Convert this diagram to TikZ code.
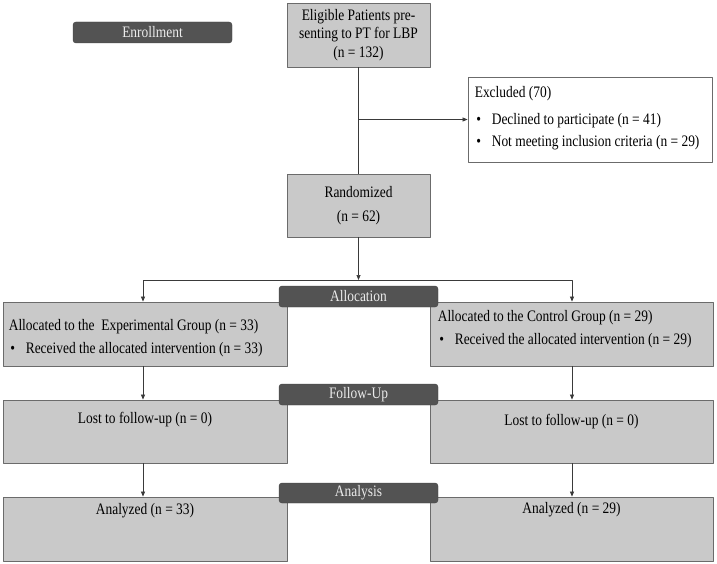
\documentclass[tikz,border=0pt]{standalone}
\usepackage{fontspec}
\setmainfont{Liberation Serif}[FakeStretch=0.84]
\usetikzlibrary{positioning,arrows.meta}

\definecolor{boxfill}{HTML}{C9C9C9}
\definecolor{boxedge}{HTML}{6B6B6B}
\definecolor{stagefill}{HTML}{535353}
\definecolor{linkgray}{HTML}{3A3A3A}

\newcommand{\bul}{\makebox[17pt][l]{\hspace{1.5pt}\textbullet}}

\tikzset{
  box/.style={draw=boxedge, fill=boxfill, line width=0.8pt, inner sep=0pt},
  stage/.style={draw=black!75, fill=stagefill, rounded corners=3pt, text=white!92!black,
    minimum width=159pt, minimum height=21pt, inner sep=0pt, font=\fontsize{16}{16}\selectfont},
  txt/.style={inner sep=0pt, align=left, font=\fontsize{16}{22.5}\selectfont},
  link/.style={draw=linkgray, line width=0.7pt},
  arr/.style={link, -{Triangle[length=5pt,width=4pt]}},
}

\begin{document}
\begin{tikzpicture}[x=1pt,y=-1pt, line join=round]

% -----------------------------
% Canvas (page = 717 x 564)
% -----------------------------
\useasboundingbox (0,0) rectangle (717,564);

\coordinate (colL) at (143,0);     % left column of arrows
\coordinate (colR) at (572,0);     % right column of arrows
\coordinate (split) at (358.5,280); % where the two arms part

% -----------------------------
% Enrollment
% -----------------------------
\node[stage] (enroll) at (152.5,32.5) {Enrollment};

\node[box, minimum width=143pt, minimum height=64pt, align=center,
  font=\fontsize{16}{18.5}\selectfont] (elig) at (358.5,35)
  {Eligible Patients pre-\\senting to PT for LBP\\(n = 132)};

\node[box, fill=white, minimum width=244pt, minimum height=85pt] (excl) at (590,119.5) {};
\node[txt, below right=10pt and 7pt of excl.north west] (exclt)
  {Excluded (70)\\[4pt] \bul Declined to participate (n = 41)\\ \bul Not meeting inclusion criteria (n = 29)};

\node[box, minimum width=143pt, minimum height=63pt, align=center,
  font=\fontsize{16}{24}\selectfont] (rand) at (358.5,205.5) {Randomized\\(n = 62)};

\draw[link] (elig) -- (rand);
\draw[arr] (elig.south |- excl.west) -- (excl.west);

% -----------------------------
% Group boxes first (stage labels sit on top)
% -----------------------------
\node[box, minimum width=284pt, minimum height=64pt] (allocL) at (145,334) {};
\node[box, minimum width=283pt, minimum height=64pt] (allocR) at (571.5,334) {};
\node[box, minimum width=284pt, minimum height=63pt] (lostL) at (145,431.5) {};
\node[box, minimum width=283pt, minimum height=63pt] (lostR) at (571.5,431.5) {};
\node[box, minimum width=284pt, minimum height=64pt] (anaL) at (145,529) {};
\node[box, minimum width=283pt, minimum height=64pt] (anaR) at (571.5,529) {};

\node[txt, below right=18pt and 6pt of allocL.north west] (allocLt)
  {Allocated to the~ Experimental Group (n = 33)\\ \bul Received the allocated intervention (n = 33)};
\node[txt, below right=9pt and 8pt of allocR.north west] (allocRt)
  {Allocated to the Control Group (n = 29)\\ \bul Received the allocated intervention (n = 29)};

\node[txt, below=12pt of lostL.north] (lostLt) {Lost to follow-up (n = 0)};
\node[txt, below=14pt of lostR.north] (lostRt) {Lost to follow-up (n = 0)};
\node[txt, below=7pt of anaL.north] (anaLt) {Analyzed (n = 33)};
\node[txt, below=5.5pt of anaR.north] (anaRt) {Analyzed (n = 29)};

% -----------------------------
% Stage labels
% -----------------------------
\node[stage] (allocation) at (358.5,296.5) {Allocation};
\node[stage] (followup) at (358.5,394.5) {Follow-Up};
\node[stage, minimum height=20pt] (analysis) at (358.5,493) {Analysis};

% -----------------------------
% Arrows
% -----------------------------
\draw[arr] (rand) -- (split);
\draw[arr] (split) -| (colL |- allocL.north);
\draw[arr] (split) -| (colR |- allocR.north);

\foreach \col/\a/\b in {colL/allocL/lostL, colL/lostL/anaL, colR/allocR/lostR, colR/lostR/anaR} {%
  \draw[arr] (\col |- \a.south) -- (\col |- \b.north);%
}

\end{tikzpicture}
\end{document}
